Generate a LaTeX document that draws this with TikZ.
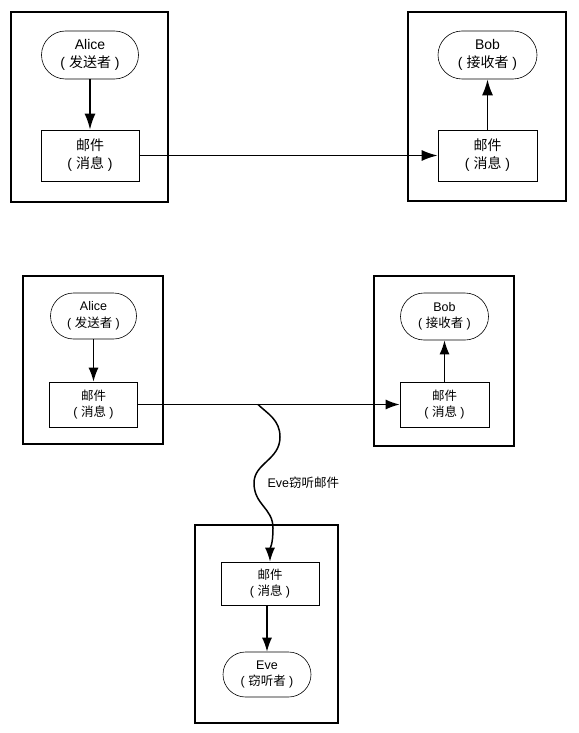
\documentclass[tikz,border=0pt]{standalone}
\usepackage{fontspec}
\setmainfont{Liberation Sans}
\newfontfamily\cjk{Noto Sans CJK SC}
\usetikzlibrary{arrows.meta,shapes.misc}
\newcommand{\zh}[1]{{\cjk #1}}
\tikzset{
	frame/.style={draw, line width=1.9pt, inner sep=0pt},
	party/.style={draw, rounded rectangle, line width=0.6pt, inner sep=0pt, align=center},
	msg/.style={draw, rectangle, line width=0.6pt, inner sep=0pt, align=center},
	big/.style={font=\fontsize{14}{18}\selectfont},
	small/.style={font=\fontsize{12.5}{16.5}\selectfont},
	flow/.style={line width=1.8pt, -{Latex[length=16pt,width=11pt]}},
	flowsmall/.style={line width=1.6pt, -{Latex[length=14pt,width=10pt]}},
}
\begin{document}
\begin{tikzpicture}[x=1pt,y=-1pt]
	\useasboundingbox (0,0) rectangle (578,733);
	% top: Alice -> Bob
	\node[frame, minimum width=157pt, minimum height=190pt] (boxA) at (89.5,107) {};
	\node[party, big, minimum width=97pt, minimum height=48pt] (alice) at (90,55) {Alice\\( \zh{发送者} )};
	\node[msg, big, minimum width=98pt, minimum height=51pt] (mailA) at (90,155.5) {\zh{邮件}\\( \zh{消息} )};
	\node[frame, minimum width=158pt, minimum height=189pt] (boxB) at (487,106.5) {};
	\node[party, big, minimum width=99pt, minimum height=48pt] (bob) at (487.5,55) {Bob\\( \zh{接收者} )};
	\node[msg, big, minimum width=99pt, minimum height=51pt] (mailB) at (487.5,155.5) {\zh{邮件}\\( \zh{消息} )};
	\draw[flow] (alice.south) -- (mailA.north);
	\draw[flow] (mailA.east) -- (mailB.west);
	\draw[flow] (mailB.north) -- (bob.south);
	% bottom: Eve listens in
	\node[frame, minimum width=140pt, minimum height=168pt] (boxC) at (93,360) {};
	\node[party, small, minimum width=86pt, minimum height=46pt] (alice2) at (93.5,316) {Alice\\( \zh{发送者} )};
	\node[msg, small, minimum width=88pt, minimum height=45pt] (mailC) at (93.5,404.5) {\zh{邮件}\\( \zh{消息} )};
	\node[frame, minimum width=140pt, minimum height=170pt] (boxD) at (444,361) {};
	\node[party, small, minimum width=88pt, minimum height=47pt] (bob2) at (444.5,316.5) {Bob\\( \zh{接收者} )};
	\node[msg, small, minimum width=89pt, minimum height=45pt] (mailD) at (444.5,404.5) {\zh{邮件}\\( \zh{消息} )};
	\node[frame, minimum width=143pt, minimum height=198pt] (boxE) at (266.5,624) {};
	\node[msg, small, minimum width=98pt, minimum height=43pt] (mailE) at (270,583.5) {\zh{邮件}\\( \zh{消息} )};
	\node[party, small, minimum width=88pt, minimum height=45pt] (eve) at (267,674.5) {Eve\\( \zh{窃听者} )};
	\draw[flowsmall] (alice2.south) -- (mailC.north);
	\draw[flowsmall] (mailC.east) -- (mailD.west);
	\draw[flowsmall] (mailD.north) -- (bob2.south);
	\draw[flowsmall] (mailE.south -| eve.north) -- (eve.north);
	\coordinate (tap) at (258,404.5);
	\draw[line width=1.5pt, -{Latex[length=14pt,width=10pt]}] (tap)
		.. controls (268,414) and (280,420) .. (280,437)
		.. controls (280,460) and (254,463) .. (254,483)
		.. controls (254,505) and (273,508) .. (273,528)
		.. controls (273,545) and (270,548) .. (mailE.north);
	\node[small, anchor=west] (tapLabel) at (264,483) {Eve\zh{窃听邮件}};
\end{tikzpicture}
\end{document}
